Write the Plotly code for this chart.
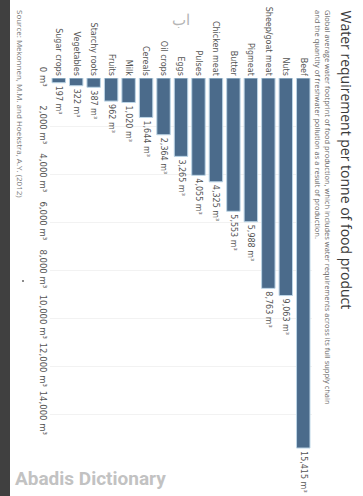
import plotly.graph_objects as go

categories = ["Beef", "Nuts", "Sheep/goat meat", "Pigmeat", "Butter", "Chicken meat",
              "Pulses", "Eggs", "Oil crops", "Cereals", "Milk", "Fruits",
              "Starchy roots", "Vegetables", "Sugar crops"]
values = [15415, 9063, 8763, 5988, 5553, 4325, 4055, 3265, 2364, 1644, 1020, 962, 387, 322, 197]
tick_values = [0, 2000, 4000, 6000, 8000, 10000, 12000, 14000]
tick_labels = ["0 m³", "2,000 m³", "4,000 m³", "6,000 m³", "8,000 m³",
               "10,000 m³", "12,000 m³", "14,000 m³"]

W, H = 363, 496
L, R, T, B = 50, 51, 78, 44
PW, PH = W - L - R, H - T - B


def px(x):
    return (x - L) / PW


def py(y):
    return 1 - (y - T) / PH


cats = categories[::-1]
vals = values[::-1]
labels = [f"{v:,} m³" for v in vals]

fig = go.Figure(go.Bar(
    x=cats, y=vals, text=labels, textposition="outside", textangle=90,
    constraintext="none", cliponaxis=False,
    textfont=dict(family="DejaVu Sans", size=8, color="#555"),
    marker=dict(color="#4b6b8b", line=dict(color="#bcd5e6", width=1)),
    hoverinfo="skip",
))

fig.update_layout(
    width=W, height=H, margin=dict(l=L, r=R, t=T, b=B, autoexpand=False),
    paper_bgcolor="white", plot_bgcolor="white", showlegend=False,
    bargap=0.23, hovermode=False,
    xaxis=dict(side="top", type="category", categoryorder="array", categoryarray=cats,
               tickangle=90, showgrid=False, showline=False, ticks="", automargin=False,
               tickfont=dict(family="DejaVu Sans", size=8, color="#555")),
    yaxis=dict(range=[15580, 0], tickvals=tick_values, ticktext=tick_labels,
               tickangle=90, showgrid=True, gridcolor="#f2f2f2", zeroline=False,
               showline=False, ticks="", automargin=False,
               tickfont=dict(family="DejaVu Sans", size=8.5, color="#555")),
)

fig.add_shape(type="rect", xref="paper", yref="paper", x0=px(0), x1=px(10),
              y0=py(H), y1=py(0), fillcolor="#404040", line=dict(width=0), layer="above")
fig.add_shape(type="circle", xref="paper", yref="paper", x0=px(22), x1=px(24),
              y0=py(282), y1=py(280), fillcolor="#666", line=dict(width=0))

fig.add_annotation(xref="paper", yref="paper", x=px(346), y=py(8), xanchor="center",
                   yanchor="top", textangle=90, showarrow=False,
                   text="Water requirement per tonne of food product",
                   font=dict(family="Open Sans", size=14, color="#3a3a3a"))
fig.add_annotation(xref="paper", yref="paper", x=px(323), y=py(8), xanchor="center",
                   yanchor="top", textangle=90, showarrow=False, align="left",
                   text="Global average water footprint of food production, which includes water requirements across its full supply chain<br>and the quantity of freshwater pollution as a result of production.",
                   font=dict(family="Open Sans", size=7.5, color="#666"))
fig.add_annotation(xref="paper", yref="paper", x=px(20), y=py(8), xanchor="center",
                   yanchor="top", textangle=90, showarrow=False,
                   text="Source: Mekonnen, M.M. and Hoekstra, A.Y. (2012)",
                   font=dict(family="Open Sans", size=8, color="#777"))
fig.add_annotation(xref="paper", yref="paper", x=px(181), y=py(19), xanchor="center",
                   yanchor="middle", showarrow=False, text="اب",
                   font=dict(family="Noto Sans", size=15, color="#b5b5b5"))
fig.add_annotation(xref="paper", yref="paper", x=px(13), y=py(478), xanchor="left",
                   yanchor="middle", showarrow=False, text="<b>Abadis Dictionary</b>",
                   font=dict(family="Roboto", size=19, color="#c2c2c2"))

fig.write_html("out.html", config={"displayModeBar": False},
               post_script="document.body.style.margin='0';")
